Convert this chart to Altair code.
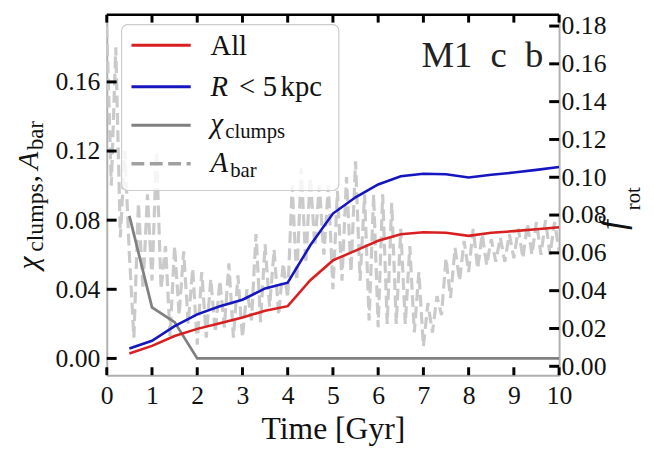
import altair as alt
import numpy as np
import pandas as pd

SERIF = "Liberation Serif, DejaVu Serif, serif"
W, H = 458, 365

# ---------------- data ----------------
time_rot = [0.5, 1.0, 1.5, 2.0, 2.5, 3.0, 3.5, 4.0, 4.5, 5.0,
            5.5, 6.0, 6.5, 7.0, 7.5, 8.0, 8.5, 9.0, 9.5, 10.0]
frot_all = [0.0068, 0.0108, 0.0160, 0.0198, 0.0228, 0.0258, 0.0294, 0.0318, 0.0455, 0.0560,
            0.0612, 0.0664, 0.0698, 0.0709, 0.0706, 0.0690, 0.0706, 0.0715, 0.0725, 0.0736]
frot_inner = [0.0094, 0.0135, 0.0212, 0.0275, 0.0318, 0.0352, 0.0412, 0.0442, 0.0640, 0.0808,
              0.0894, 0.0962, 0.1005, 0.1019, 0.1016, 0.0999, 0.1013, 0.1025, 0.1039, 0.1054]

time_chi = [0.5, 1.0, 1.5, 2.0, 10.0]
chi_clumps = [0.0825, 0.0295, 0.0210, 0.0, 0.0]

# A_bar sampled every 0.1 Gyr, one row per Gyr
abar_0 = [0.192, 0.100, 0.180, 0.070, 0.120, 0.060, 0.012, 0.090, 0.040, 0.095]
abar_1 = [0.045, 0.120, 0.040, 0.065, 0.013, 0.065, 0.025, 0.062, 0.020, 0.052]
abar_2 = [0.008, 0.050, 0.012, 0.046, 0.015, 0.045, 0.018, 0.055, 0.012, 0.048]
abar_3 = [0.012, 0.040, 0.022, 0.072, 0.021, 0.066, 0.030, 0.063, 0.025, 0.055]
abar_4 = [0.035, 0.100, 0.045, 0.110, 0.055, 0.105, 0.065, 0.100, 0.060, 0.100]
abar_5 = [0.040, 0.097, 0.045, 0.105, 0.050, 0.114, 0.045, 0.095, 0.022, 0.095]
abar_6 = [0.018, 0.095, 0.020, 0.090, 0.020, 0.075, 0.020, 0.065, 0.015, 0.050]
abar_7 = [0.007, 0.032, 0.015, 0.036, 0.025, 0.058, 0.035, 0.064, 0.045, 0.068]
abar_8 = [0.050, 0.075, 0.052, 0.072, 0.054, 0.069, 0.056, 0.070, 0.056, 0.072]
abar_9 = [0.058, 0.075, 0.058, 0.078, 0.060, 0.079, 0.060, 0.080, 0.060, 0.079, 0.062]
abar = abar_0 + abar_1 + abar_2 + abar_3 + abar_4 + abar_5 + abar_6 + abar_7 + abar_8 + abar_9
time_abar = list(np.round(np.arange(len(abar)) * 0.1, 2))

x_ticks = [0, 1, 2, 3, 4, 5, 6, 7, 8, 9, 10]
left_ticks = [0.0, 0.04, 0.08, 0.12, 0.16]
right_ticks = [0.0, 0.02, 0.04, 0.06, 0.08, 0.10, 0.12, 0.14, 0.16, 0.18]

# ---------------- scales / axes ----------------
x_scale = alt.Scale(domain=[0, 10], nice=False, zero=False)
left_scale = alt.Scale(domain=[-0.0097, 0.1989], nice=False, zero=False)
right_scale = alt.Scale(domain=[-0.0047, 0.186], nice=False, zero=False)

FRAME = "#b0b0b0"
x_axis = alt.Axis(values=x_ticks, format="d", ticks=False, tickSize=0, grid=False,
                  domainColor=FRAME, domainWidth=2, labelFlush=False,
                  labelFont=SERIF, labelFontSize=26, labelColor="#111", labelPadding=8,
                  title="Time [Gyr]", titleFont=SERIF, titleFontSize=32,
                  titleFontWeight="normal", titleColor="#111", titlePadding=5)
left_axis = alt.Axis(values=left_ticks, format=".2f", orient="left", ticks=False, tickSize=0,
                     grid=False, domainColor=FRAME, domainWidth=2, labelFlush=False,
                     labelFont=SERIF, labelFontSize=26, labelColor="#111", labelPadding=7,
                     title=None)
right_axis = alt.Axis(values=right_ticks, format=".2f", orient="right", ticks=False, tickSize=0,
                      grid=False, domainColor=FRAME, domainWidth=2, labelFlush=False,
                      labelFont=SERIF, labelFontSize=26, labelColor="#111", labelPadding=2,
                      title=None)

X = alt.X("t:Q", scale=x_scale, axis=x_axis)
YL = alt.Y("v:Q", scale=left_scale, axis=left_axis)
YR = alt.Y("v:Q", scale=right_scale, axis=right_axis)

RED, BLUE, GRAY, LGRAY = "#d82020", "#1616c0", "#808080", "#cacaca"

df_abar = pd.DataFrame({"t": time_abar, "v": abar})
df_chi = pd.DataFrame({"t": time_chi, "v": chi_clumps})
df_all = pd.DataFrame({"t": time_rot, "v": frot_all})
df_in = pd.DataFrame({"t": time_rot, "v": frot_inner})

abar_line = alt.Chart(df_abar).mark_line(color=LGRAY, strokeWidth=3.2, strokeDash=[12, 5.5], clip=True).encode(x=X, y=YL)
chi_line = alt.Chart(df_chi).mark_line(color=GRAY, strokeWidth=2.8, clip=True).encode(x=X, y=YL)
lt = alt.Chart(pd.DataFrame({"v": left_ticks})).mark_rule(color="black", strokeWidth=3).encode(
    y=YL, x=alt.value(0), x2=alt.value(10))
left_layer = alt.layer(abar_line, chi_line, lt)

all_line = alt.Chart(df_all).mark_line(color=RED, strokeWidth=2.6, clip=True).encode(x=X, y=YR)
in_line = alt.Chart(df_in).mark_line(color=BLUE, strokeWidth=2.6, clip=True).encode(x=X, y=YR)
rt = alt.Chart(pd.DataFrame({"v": right_ticks})).mark_rule(color="black", strokeWidth=3).encode(
    y=YR, x=alt.value(W - 10), x2=alt.value(W))
right_layer = alt.layer(all_line, in_line, rt)

df_xt = pd.DataFrame({"t": x_ticks})
bt = alt.Chart(df_xt).mark_rule(color="black", strokeWidth=3).encode(x=X, y=alt.value(H), y2=alt.value(H - 8))
tt = alt.Chart(df_xt).mark_rule(color="black", strokeWidth=3).encode(x=X, y=alt.value(0), y2=alt.value(8))

one = pd.DataFrame({"k": [0]})
top_border = alt.Chart(one).mark_rule(color="black", strokeWidth=2.5).encode(
    x=alt.value(0), x2=alt.value(W), y=alt.value(0))


def txt(s, x, y, size, style="normal", angle=0, align="left", color="#111"):
    return alt.Chart(one).mark_text(text=s, font=SERIF, fontSize=size, fontStyle=style,
                                    angle=angle, align=align, baseline="alphabetic",
                                    color=color).encode(x=alt.value(x), y=alt.value(y))


def seg(color, y, dash=None, width=3):
    kw = dict(color=color, strokeWidth=width)
    if dash:
        kw["strokeDash"] = dash
    return alt.Chart(one).mark_rule(**kw).encode(x=alt.value(25), x2=alt.value(85), y=alt.value(y))


legend_box = alt.Chart(one).mark_rect(fill="white", fillOpacity=0.8, stroke="#cccccc",
                                      strokeWidth=1.2, cornerRadius=6).encode(
    x=alt.value(15), x2=alt.value(235), y=alt.value(10), y2=alt.value(178))

LF, LS = 29, 21
legend = [
    legend_box,
    seg(RED, 31), seg(BLUE, 73), seg(GRAY, 112), seg("#a0a0a0", 151, dash=[13, 5.6], width=3.5),
    txt("All", 105, 41, LF),
    txt("R", 105, 82, LF, style="italic"),
    txt("<", 134, 82, LF),
    txt("5", 158, 82, LF),
    txt("kpc", 176, 82, LF),
    txt("χ", 105, 120, LF, style="italic"),
    txt("clumps", 120, 125, LS),
    txt("A", 105, 159, LF, style="italic"),
    txt("bar", 125, 164, LS),
]

annot = [
    txt("M1\u2002c\u2002b", 442, 53, 37, align="right", color="#222"),
    # left y title: chi_clumps, A_bar (rotated)
    txt("χ", -70, 258, 30, style="italic", angle=270),
    txt("clumps", -65, 240, 24, angle=270),
    txt(",", -70, 170, 30, angle=270),
    txt("A", -70, 157, 30, style="italic", angle=270),
    txt("bar", -65, 137, 23, angle=270),
    # right y title: f_rot
    txt("f", 524, 218, 36, style="italic", angle=270),
    txt("rot", 540, 198, 21, angle=270),
]

chart = alt.layer(left_layer, right_layer, bt, tt, top_border, *legend, *annot).resolve_scale(
    y="independent"
).properties(
    width=W, height=H,
    padding={"left": 100, "top": 4, "right": 88, "bottom": 74},
    autosize=alt.AutoSizeParams(type="none"),
).configure_view(strokeWidth=0)

chart.save("out.html", embed_options={"renderer": "svg", "actions": False})
